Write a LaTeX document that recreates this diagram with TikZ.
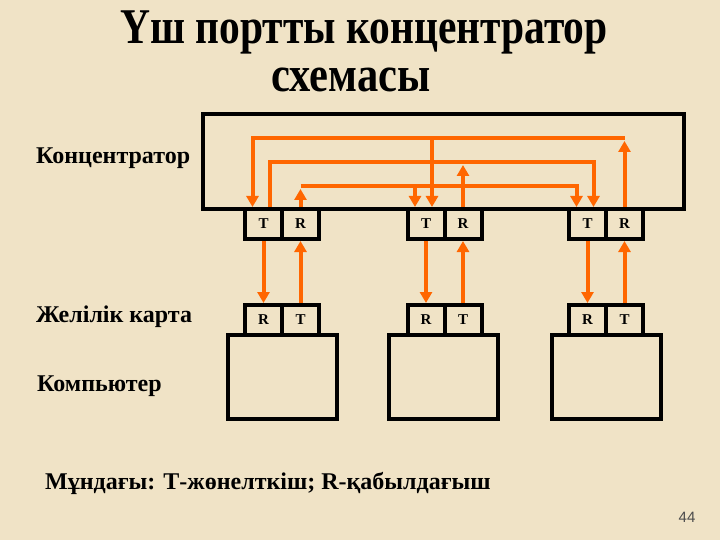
\documentclass[tikz,border=0pt]{standalone}
\usepackage{fontspec}
\setmainfont{Liberation Serif}
\setsansfont{Liberation Sans}
\usetikzlibrary{arrows.meta,calc}
\definecolor{bg}{RGB}{240,227,198}
\definecolor{org}{RGB}{255,102,0}
\begin{document}
\begin{tikzpicture}[x=1pt,y=-1pt,
  box/.style={draw=black,line width=4pt,inner sep=0pt},
  port/.style={box,minimum width=37pt,minimum height=30pt,font=\fontsize{15}{15}\selectfont\bfseries},
  comp/.style={box,minimum width=109pt,minimum height=84pt},
  wire/.style={draw=org,line width=4pt},
  tip/.style={-{Triangle[length=11pt,width=12pt]}},
  lbl/.style={anchor=base west,inner sep=0pt,font=\fontsize{24}{24}\selectfont\bfseries},
  ttl/.style={anchor=base,inner sep=0pt,font=\fontsize{50}{50}\selectfont\bfseries}]
\fill[bg] (0,0) rectangle (720,540);
\useasboundingbox (0,0) rectangle (720,540);

% title
\node[ttl] (t1line) at (364,44) {\scalebox{0.83}[1]{Үш портты концентратор}};
\node[ttl] (t2line) at (351,92) {\scalebox{0.85}[1]{схемасы}};

% hub
\node[box,minimum width=481pt,minimum height=95pt] (hub) at (443.5,161.5) {};

% upper ports
\node[port] (t1) at (263.5,224) {T};
\node[port] (r1) at (300.5,224) {R};
\node[port] (t2) at (426,224) {T};
\node[port] (r2) at (463,224) {R};
\node[port] (t3) at (587.5,224) {T};
\node[port] (r3) at (624.5,224) {R};

% lower ports
\node[port] (rb1) at (263.5,320) {R};
\node[port] (tb1) at (300.5,320) {T};
\node[port] (rb2) at (426,320) {R};
\node[port] (tb2) at (463,320) {T};
\node[port] (rb3) at (587.5,320) {R};
\node[port] (tb3) at (624.5,320) {T};

% computers
\node[comp] (c1) at (282,377) {};
\node[comp] (c2) at (443,377) {};
\node[comp] (c3) at (606,377) {};

% levels
\coordinate (yA) at (0,138);
\coordinate (yB) at (0,162);
\coordinate (yC) at (0,186);

% line A
\draw[wire,tip] (r3.north) -- (r3.north |- 0,141);
\draw[wire,tip] (r3.north |- yA) -| ([xshift=-11pt]t1.north);
\draw[wire,tip] ([xshift=6pt]t2.north |- yA) -- ([xshift=6pt]t2.north);
% line B
\draw[wire,tip] (r2.north) -- (r2.north |- 0,165);
\draw[wire,tip] ([xshift=6pt]t1.north) |- ([xshift=6pt]t3.north |- yB) -- ([xshift=6pt]t3.north);
\draw[wire] ([xshift=6pt]t1.north |- yB) -- ([xshift=6pt]t1.north);
% line C
\draw[wire,tip] (r1.north) -- (r1.north |- 0,189);
\draw[wire,tip] (r1.north |- yC) -| ([xshift=-11pt]t3.north);
\draw[wire,tip] ([xshift=-11pt]t2.north |- yC) -- ([xshift=-11pt]t2.north);

% lower arrows
\draw[wire,tip] (t1.south) -- (rb1.north);
\draw[wire,tip] (tb1.north) -- (r1.south);
\draw[wire,tip] (t2.south) -- (rb2.north);
\draw[wire,tip] (tb2.north) -- (r2.south);
\draw[wire,tip] (t3.south) -- (rb3.north);
\draw[wire,tip] (tb3.north) -- (r3.south);

% labels
\node[lbl] (lhub) at (36,164) {Концентратор};
\node[lbl] (lnet) at (36,322) {Желілік карта};
\node[lbl] (lcomp) at (37,391) {Компьютер};
\node[lbl] (note) at (45,489) {Мұндағы: Т-жөнелткіш; R-қабылдағыш};
\node[inner sep=0pt,font=\sffamily\fontsize{15}{15}\selectfont,text=black!70] (pg) at (687,517) {44};
\end{tikzpicture}
\end{document}
